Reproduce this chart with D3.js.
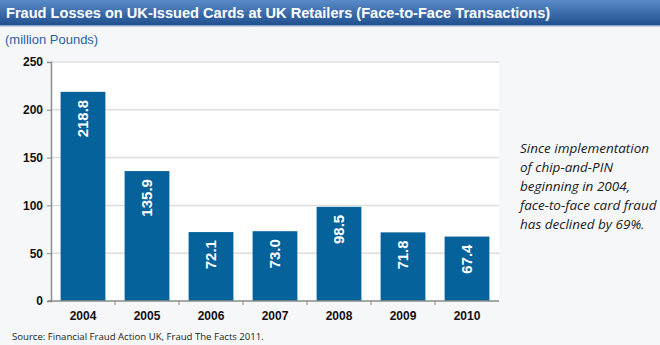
<!DOCTYPE html>
<html><head><meta charset="utf-8">
<script src="https://cdn.jsdelivr.net/npm/d3@7"></script>
<style>body{margin:0;background:#f6f7f9;}svg{display:block;}</style>
</head><body>
<script>
const years = ["2004","2005","2006","2007","2008","2009","2010"];
const losses = [218.8,135.9,72.1,73.0,98.5,71.8,67.4];
const yTicks = [0,50,100,150,200,250];
const title = "Fraud Losses on UK-Issued Cards at UK Retailers (Face-to-Face Transactions)";
const unitLabel = "(million Pounds)";
const noteLines = ["Since implementation","of chip-and-PIN","beginning in 2004,","face-to-face card fraud","has declined  by 69%."];
const source = "Source: Financial Fraud Action UK, Fraud The Facts 2011.";

const W=660,H=345;
const svg=d3.select("body").append("svg").attr("width",W).attr("height",H);
const defs=svg.append("defs");
const g=defs.append("linearGradient").attr("id","hdr").attr("x1",0).attr("y1",0).attr("x2",0).attr("y2",1);
g.append("stop").attr("offset","0%").attr("stop-color","#5a8bc9");
g.append("stop").attr("offset","100%").attr("stop-color","#21508f");
svg.append("rect").attr("width",W).attr("height",H).attr("fill","#f6f7f9");
svg.append("rect").attr("width",W).attr("height",25).attr("fill","url(#hdr)");
svg.append("rect").attr("y",25).attr("width",W).attr("height",1.5).attr("fill","#8ea9cf");
svg.append("text").attr("x",6).attr("y",18).attr("fill","#fff")
  .style("font-family","'Liberation Sans Narrow','Liberation Sans',Arial,sans-serif").style("font-size","14.6px").style("font-weight","bold")
  .text(title);
svg.append("text").attr("x",5).attr("y",44).attr("fill","#2a5fa5")
  .style("font-family","'Liberation Sans',Arial,sans-serif").style("font-size","13px")
  .text(unitLabel);

const L=51,R=499,T=62,B=301;
svg.append("rect").attr("x",L).attr("y",T).attr("width",R-L).attr("height",B-T).attr("fill","#fff");
const x=d3.scaleBand().domain(years).range([L,R]).paddingInner(0.3).paddingOuter(0.15);
const y=d3.scaleLinear().domain([0,250]).range([B,T]);

svg.append("g").selectAll("line").data(yTicks.filter(d=>d>0)).join("line")
  .attr("x1",L).attr("x2",R).attr("y1",d=>y(d)).attr("y2",d=>y(d))
  .attr("stroke","#dedede").attr("stroke-width",1.5);

svg.append("g").selectAll("rect").data(years).join("rect")
  .attr("x",d=>x(d)).attr("width",x.bandwidth())
  .attr("y",(d,i)=>y(losses[i])).attr("height",(d,i)=>B-y(losses[i]))
  .attr("fill","#05629b");

svg.append("g").selectAll("text").data(years).join("text")
  .attr("transform",(d,i)=>`translate(${x(d)+x.bandwidth()/2+5},${y(losses[i])+8}) rotate(-90)`)
  .attr("text-anchor","end").attr("fill","#fff")
  .style("font-family","'Liberation Sans',Arial,sans-serif").style("font-size","15px").style("font-weight","bold")
  .text((d,i)=>losses[i].toFixed(1));

const ya=svg.append("g").attr("transform",`translate(${L},0)`)
  .call(d3.axisLeft(y).tickValues(yTicks).tickSize(4).tickPadding(4));
const xa=svg.append("g").attr("transform",`translate(0,${B})`)
  .call(d3.axisBottom(x).tickSize(0).tickPadding(10));
[ya,xa].forEach(a=>{
  a.select(".domain").attr("stroke","#8a8a8a").attr("stroke-width",1.5);
  a.selectAll(".tick line").attr("stroke","#8a8a8a");
  a.selectAll("text").attr("fill","#111").style("font-family","'Liberation Sans',Arial,sans-serif").style("font-size","12px").style("font-weight","bold");
});
xa.select(".domain").attr("d",`M${L-3},0H${R}`);
svg.append("g").selectAll("line").data(years.slice(1)).join("line")
  .attr("x1",d=>x(d)-x.step()*x.paddingInner()/2).attr("x2",d=>x(d)-x.step()*x.paddingInner()/2)
  .attr("y1",B).attr("y2",B+4).attr("stroke","#8a8a8a");

const nt=svg.append("text").attr("fill","#1a1a1a")
  .style("font-family","'Open Sans','Noto Sans',sans-serif").style("font-size","13.5px").style("font-style","italic");
noteLines.forEach((l,i)=>nt.append("tspan").attr("x",520).attr("y",153+i*19).text(l));

svg.append("text").attr("x",12).attr("y",340).attr("fill","#222")
  .style("font-family","'Open Sans','Noto Sans',sans-serif").style("font-size","9.6px")
  .text(source);
</script>
</body></html>
